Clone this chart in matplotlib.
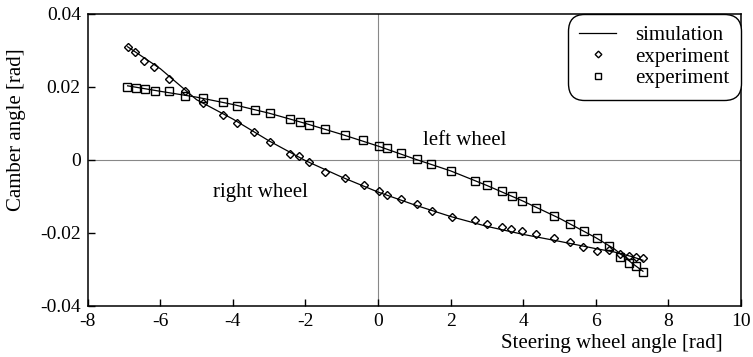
import numpy as np
import matplotlib
matplotlib.use("Agg")
import matplotlib.pyplot as plt

# right wheel, experiment (diamonds)
right_x = [-6.90, -6.71, -6.44, -6.17, -5.75, -5.32, -4.83, -4.28, -3.89, -3.41,
           -2.97, -2.42, -2.17, -1.89, -1.45, -0.92, -0.40, 0.02, 0.25, 0.62,
           1.06, 1.49, 2.04, 2.68, 3.01, 3.42, 3.66, 3.97, 4.34, 4.84,
           5.29, 5.66, 6.02, 6.36, 6.68, 6.91, 7.10, 7.31]
right_y = [0.0309, 0.0297, 0.0272, 0.0254, 0.0221, 0.0188, 0.0156, 0.0123, 0.0100, 0.0076,
           0.0050, 0.0017, 0.0011, -0.0007, -0.0033, -0.0050, -0.0068, -0.0086, -0.0095, -0.0106,
           -0.0122, -0.0140, -0.0156, -0.0164, -0.0176, -0.0184, -0.0190, -0.0195, -0.0203, -0.0215,
           -0.0226, -0.0238, -0.0249, -0.0248, -0.0258, -0.0262, -0.0267, -0.0270]

# left wheel, experiment (squares)
left_x = [-6.92, -6.67, -6.42, -6.14, -5.75, -5.31, -4.81, -4.26, -3.89, -3.38,
          -2.97, -2.42, -2.14, -1.89, -1.45, -0.90, -0.41, 0.02, 0.25, 0.62,
          1.06, 1.46, 2.02, 2.68, 3.01, 3.42, 3.70, 3.97, 4.34, 4.84,
          5.29, 5.67, 6.02, 6.36, 6.68, 6.91, 7.10, 7.31]
left_y = [0.0201, 0.0197, 0.0193, 0.0190, 0.0190, 0.0176, 0.0170, 0.0158, 0.0149, 0.0138,
          0.0128, 0.0112, 0.0103, 0.0096, 0.0085, 0.0067, 0.0055, 0.0039, 0.0032, 0.0019,
          0.0003, -0.0011, -0.0029, -0.0057, -0.0070, -0.0084, -0.0098, -0.0112, -0.0131, -0.0154,
          -0.0176, -0.0196, -0.0214, -0.0236, -0.0267, -0.0281, -0.0290, -0.0308]

# simulation curves
sim_x = [-6.9, -6.0, -5.0, -4.0, -3.0, -2.0, -1.0, 0.0, 1.0, 2.0, 3.0, 4.0, 5.0, 6.0, 6.5, 7.0, 7.3]
sim_right = [0.0310, 0.0250, 0.0165, 0.0112, 0.0052, -0.0002, -0.0047, -0.0088, -0.0123, -0.0155,
             -0.0182, -0.0204, -0.0223, -0.0243, -0.0252, -0.0265, -0.0275]
sim_left = [0.0203, 0.0188, 0.0172, 0.0152, 0.0128, 0.0100, 0.0070, 0.0038, 0.0003, -0.0030,
            -0.0070, -0.0113, -0.0160, -0.0213, -0.0243, -0.0283, -0.0305]

xticks = [-8, -6, -4, -2, 0, 2, 4, 6, 8, 10]
xtick_labels = ['-8', '-6', '-4', '-2', '0', '2', '4', '6', '8', '10']
yticks = [-0.04, -0.02, 0, 0.02, 0.04]
ytick_labels = ['-0.04', '-0.02', '0', '0.02', '0.04']

plt.rcParams['font.family'] = ['Liberation Serif', 'DejaVu Serif']
plt.rcParams['font.size'] = 14
plt.rcParams['axes.unicode_minus'] = False

fig = plt.figure(figsize=(7.53, 3.57), dpi=100)
ax = fig.add_axes([0.1165, 0.143, 0.8675, 0.818])

ax.axhline(0, color='#888888', lw=0.8, zorder=1)
ax.axvline(0, color='#888888', lw=0.8, zorder=1)

ax.plot(sim_x, sim_right, color='black', lw=0.9, zorder=2, label='simulation')
ax.plot(sim_x, sim_left, color='black', lw=0.9, zorder=2)
ax.plot(right_x, right_y, 'D', ms=4.5, mfc='none', mec='black', mew=1.0, zorder=3, label='experiment')
ax.plot(left_x, left_y, 's', ms=5.8, mfc='none', mec='black', mew=1.0, zorder=3, label='experiment')

ax.text(1.25, 0.0053, 'left wheel', fontsize=15, va='center', ha='left')
ax.text(-4.54, -0.0090, 'right wheel', fontsize=15, va='center', ha='left')

ax.set_xlim(-8, 10)
ax.set_ylim(-0.04, 0.04)
ax.set_xticks(xticks)
ax.set_xticklabels(xtick_labels)
ax.set_yticks(yticks)
ax.set_yticklabels(ytick_labels)
ax.tick_params(direction='in', length=5, width=1, pad=5, labelsize=14)
for s in ax.spines.values():
    s.set_linewidth(1.1)

ax.set_xlabel('Steering wheel angle [rad]', fontsize=15, ha='right')
ax.xaxis.set_label_coords(0.972, -0.095)
ax.set_ylabel('Camber angle [rad]', fontsize=15)
ax.yaxis.set_label_coords(-0.094, 0.603)

leg = ax.legend(loc='upper right', borderaxespad=0, fancybox=True, framealpha=1,
                edgecolor='black', fontsize=15, handlelength=1.8, markerscale=0.75,
                labelspacing=0.1, borderpad=0.55, handletextpad=0.9)
leg.get_frame().set_linewidth(1.0)
leg.get_frame().set_boxstyle('round,pad=0,rounding_size=0.8')

fig.savefig('out.png', dpi=100)
